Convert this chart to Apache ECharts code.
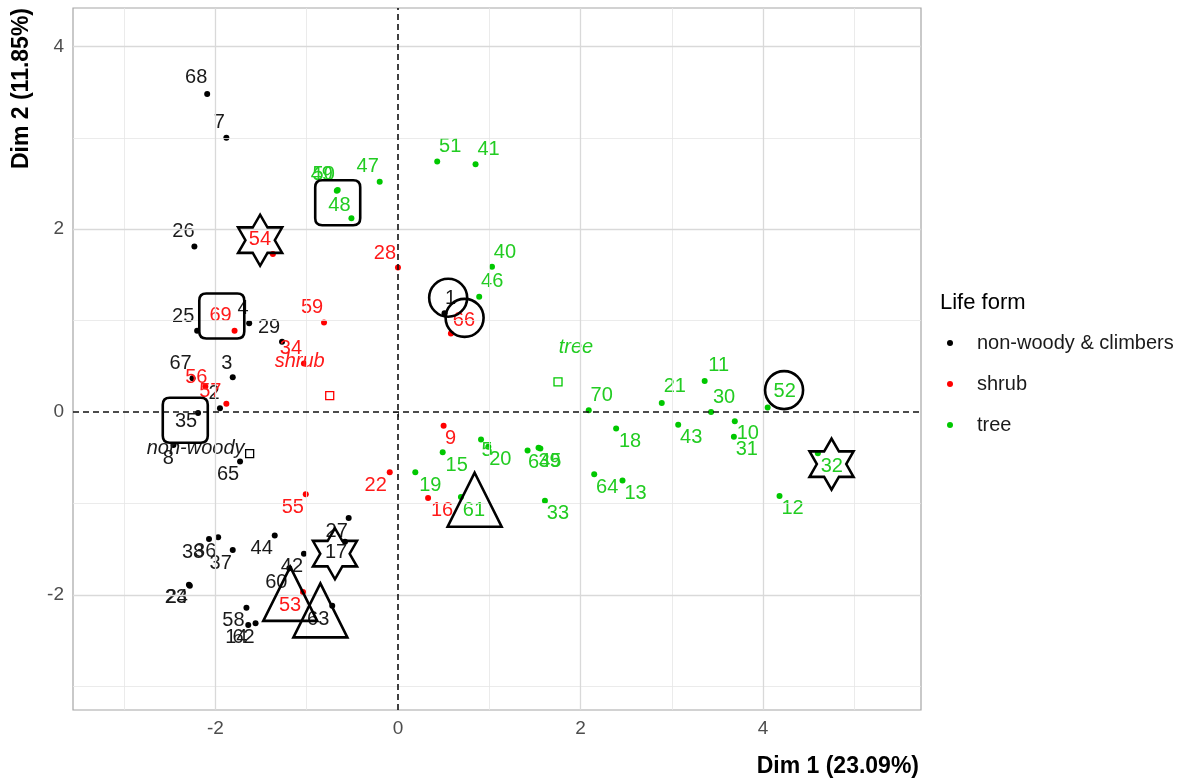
<!DOCTYPE html>
<html>
<head>
<meta charset="utf-8">
<script src="https://cdn.jsdelivr.net/npm/echarts@6/dist/echarts.min.js"></script>
<style>
html,body{margin:0;padding:0;background:#fff;}
#chart{width:1184px;height:781px;}
</style>
</head>
<body>
<div id="chart"></div>
<script>
// ---- data (Dim 1, Dim 2 coordinates of individuals) ----
const nwIds   = ['68','7','26','25','4','29','67','3','2','35','8','65','1','27','17','44','42','60','63','38','36','37','23','24','58','14','62'];
const nwDim1  = [-2.09,-1.88,-2.23,-2.20,-1.63,-1.27,-2.25,-1.81,-1.95,-2.19,-2.46,-1.73,0.51,-0.54,-0.58,-1.35,-1.03,-1.19,-0.72,-2.07,-1.97,-1.81,-2.29,-2.28,-1.66,-1.64,-1.56];
const nwDim2  = [3.48,3.00,1.81,0.89,0.97,0.77,0.37,0.38,0.04,-0.01,-0.36,-0.54,1.08,-1.16,-1.42,-1.35,-1.55,-1.71,-2.12,-1.39,-1.37,-1.51,-1.89,-1.90,-2.14,-2.33,-2.31];

const shrubIds  = ['69','59','54','28','34','56','57','22','55','9','16','66','53'];
const shrubDim1 = [-1.79,-0.81,-1.37,0.00,-1.03,-2.11,-1.88,-0.09,-1.01,0.50,0.33,0.58,-1.04];
const shrubDim2 = [0.89,0.98,1.73,1.58,0.53,0.28,0.09,-0.66,-0.90,-0.15,-0.94,0.86,-1.97];

const treeIds  = ['47','49','50','48','51','41','40','46','70','21','11','30','52','18','43','10','31','32','12','64','13','33','15','19','61','5','20','6','39','45'];
const treeDim1 = [-0.20,-0.67,-0.66,-0.51,0.43,0.85,1.03,0.89,2.09,2.89,3.36,3.43,4.05,2.39,3.07,3.69,3.68,4.60,4.18,2.15,2.46,1.61,0.49,0.19,0.69,0.91,0.99,1.42,1.54,1.56];
const treeDim2 = [2.52,2.42,2.43,2.12,2.74,2.71,1.59,1.26,0.02,0.10,0.34,0.00,0.05,-0.18,-0.14,-0.10,-0.27,-0.45,-0.92,-0.68,-0.75,-0.97,-0.44,-0.66,-0.93,-0.30,-0.38,-0.42,-0.39,-0.40];

const groupNames    = ['non-woody & climbers','shrub','tree'];
const centroidNames = ['non-woody','shrub','tree'];

const xMajor = [-2,0,2,4];
const xMinor = [-3,-1,1,3,5];
const yMajor = [-2,0,2,4];
const yMinor = [-3,-1,1,3];

// highlighted individuals (annotation shape centres in data units)
const boxMarks      = [[-0.66,2.29],[-1.93,1.05],[-2.33,-0.09]];
const starMarks     = [[-1.51,1.88],[-0.69,-1.55],[4.75,-0.57]];
const circleMarks   = [[0.55,1.25],[0.73,1.03],[4.23,0.24]];
const triangleMarks = [[0.84,-0.96],[-1.18,-1.99],[-0.85,-2.17]];

// ---- label layout (pixel nudges, like ggrepel) ----
const nudge = {
 '68':[-11,-16],'7':[-7,-15],'26':[-11,-15],'25':[-14,-14],'4':[-6,-15],'29':[-13,-14],'67':[-12,-15],'3':[-6,-14],'2':[-6,-15],'35':[-12,9],'8':[-5,14],'65':[-12,13],'1':[6,-15],'27':[-12,13],'17':[-9,11],'44':[-13,13],'42':[-12,13],'60':[-13,14],'63':[-14,14],'38':[-16,13],'36':[-13,14],'37':[-12,13],'23':[-13,13],'24':[-13,12],'58':[-13,13],'14':[-12,12],'62':[-12,14],
 '69':[-14,-15],'59':[-12,-15],'54':[-13,-14],'28':[-13,-14],'34':[-13,-15],'56':[-9,-9],'57':[-16,-12],'22':[-14,13],'55':[-13,13],'9':[7,13],'16':[14,13],'66':[13,-13],'53':[-13,13],
 '47':[-12,-15],'49':[-15,-16],'50':[-14,-15],'48':[-12,-13],'51':[13,-15],'41':[13,-15],'40':[13,-14],'46':[13,-15],'70':[13,-15],'21':[13,-16],'11':[14,-15],'30':[13,-15],'52':[17,-16],'18':[14,13],'43':[13,13],'10':[13,12],'31':[13,13],'32':[14,13],'12':[13,12],'64':[13,13],'13':[13,13],'33':[13,13],'15':[14,13],'19':[15,13],'61':[13,13],'5':[6,11],'20':[12,13],'6':[6,12],'39':[11,14],'45':[10,13]
};
const centroidNudge = [[-54,-5],[-30,-34],[18,-34]];

const dotColors   = ['#000000','#ff0000','#00c800'];
const textColors  = ['#1a1a1a','#ff1a1a','#22cc22'];
const FONT = "'Liberation Sans', Arial, sans-serif";

function mean(a){ return a.reduce((s,v)=>s+v,0)/a.length; }

const groups = [
  {ids:nwIds, x:nwDim1, y:nwDim2},
  {ids:shrubIds, x:shrubDim1, y:shrubDim2},
  {ids:treeIds, x:treeDim1, y:treeDim2}
];

const series = [];

// grid lines + dashed origin lines
const gl = (v, axis, color, width) => ({[axis]: v, lineStyle:{color:color, width:width, type:'solid', opacity:1}});
series.push({
  type:'scatter', data:[], silent:true, z:1,
  markLine:{
    silent:true, symbol:['none','none'], label:{show:false}, animation:false,
    data:[
      ...xMinor.map(v=>gl(v,'xAxis','#e6e6e6',0.8)),
      ...yMinor.map(v=>gl(v,'yAxis','#e6e6e6',0.8)),
      ...xMajor.filter(v=>v!==0).map(v=>gl(v,'xAxis','#d9d9d9',1.3)),
      ...yMajor.filter(v=>v!==0).map(v=>gl(v,'yAxis','#d9d9d9',1.3))
    ]
  }
});
series.push({
  type:'scatter', data:[], silent:true, z:2,
  markLine:{
    silent:true, symbol:['none','none'], label:{show:false}, animation:false,
    data:[
      {xAxis:0, lineStyle:{color:'#111', width:1.6, type:[6,4], opacity:1}},
      {yAxis:0, lineStyle:{color:'#111', width:1.6, type:[6,4], opacity:1}}
    ]
  }
});

groups.forEach((g,gi)=>{
  series.push({
    name: groupNames[gi], type:'scatter', symbol:'circle', symbolSize:6, z:3,
    itemStyle:{color:dotColors[gi], opacity:1},
    emphasis:{disabled:true},
    label:{show:true, position:'inside', formatter:'{b}', color:textColors[gi], opacity:1, fontSize:20, fontFamily:FONT},
    data: g.ids.map((id,i)=>({
      name:id, value:[g.x[i], g.y[i]],
      label:{offset: nudge[id] || [0,-14]}
    }))
  });
});

// group centroids (mean of each group)
series.push({
  type:'scatter', symbol:'rect', symbolSize:8, z:3, silent:true,
  emphasis:{disabled:true},
  data: groups.map((g,gi)=>({
    name: centroidNames[gi], value:[mean(g.x), mean(g.y)],
    itemStyle:{color:'rgba(0,0,0,0)', borderColor:dotColors[gi], borderWidth:1.3, opacity:1},
    label:{show:true, position:'inside', formatter:'{b}', offset:centroidNudge[gi], color:textColors[gi], opacity:1, fontStyle:'italic', fontSize:20, fontFamily:FONT}
  }))
});

// highlight shapes
const hex = 'path://M43.3,0 L57.73,25 L86.6,25 L72.17,50 L86.6,75 L57.73,75 L43.3,100 L28.87,75 L0,75 L14.43,50 L0,25 L28.87,25 Z';
const rbox = 'path://M7,0 L38,0 Q45,0 45,7 L45,38 Q45,45 38,45 L7,45 Q0,45 0,38 L0,7 Q0,0 7,0 Z';
const shapeStyle = {color:'rgba(0,0,0,0)', borderColor:'#000', borderWidth:2.6, opacity:1};
[[boxMarks, rbox, [45,45]], [starMarks, hex, [44,51]], [circleMarks, 'circle', 38], [triangleMarks, 'triangle', [54,54]]]
.forEach(([pts, sym, size])=>{
  series.push({
    type:'scatter', symbol:sym, symbolSize:size, symbolKeepAspect:false, z:5, silent:true,
    emphasis:{disabled:true},
    itemStyle:shapeStyle, data: pts.map(p=>({value:p}))
  });
});

const chart = echarts.init(document.getElementById('chart'), null, {renderer:'canvas'});
chart.setOption({
  animation:false,
  backgroundColor:'#ffffff',
  grid:{left:73, right:263, top:8, bottom:71, show:true, borderColor:'#a6a6a6', borderWidth:1.2, backgroundColor:'#fff'},
  xAxis:{
    type:'value', min:-3.56, max:5.73,
    axisLine:{show:false},
    splitLine:{show:false},
    axisTick:{show:true, customValues:xMajor, length:5, lineStyle:{color:'#555', width:1}},
    axisLabel:{customValues:xMajor, color:'#4d4d4d', fontSize:19, fontFamily:FONT, margin:9}
  },
  yAxis:{
    type:'value', min:-3.26, max:4.42,
    axisLine:{show:false},
    splitLine:{show:false},
    axisTick:{show:true, customValues:yMajor, length:5, lineStyle:{color:'#555', width:1}},
    axisLabel:{customValues:yMajor, color:'#4d4d4d', fontSize:19, fontFamily:FONT, margin:9}
  },
  title:{text:'Life form', left:935, top:287, textStyle:{fontSize:22, fontWeight:'normal', color:'#000', fontFamily:FONT}},
  legend:{
    data:groupNames, orient:'vertical', left:942, top:328, icon:'circle',
    itemWidth:12, itemHeight:6, itemGap:21, selectedMode:false,
    textStyle:{fontSize:20, color:'#1a1a1a', fontFamily:FONT, lineHeight:20, padding:[0,0,0,16]}
  },
  graphic:[
    {type:'text', x:919, y:767, silent:true, style:{text:'Dim 1 (23.09%)', fill:'#000', font:"bold 23px 'Liberation Sans', Arial, sans-serif", textAlign:'right', textVerticalAlign:'middle'}},
    {type:'text', x:10, y:8, rotation:Math.PI/2, silent:true, style:{text:'Dim 2 (11.85%)', fill:'#000', font:"bold 23px 'Liberation Sans', Arial, sans-serif", textAlign:'right', textVerticalAlign:'top'}}
  ],
  series:series
});
</script>
</body>
</html>
